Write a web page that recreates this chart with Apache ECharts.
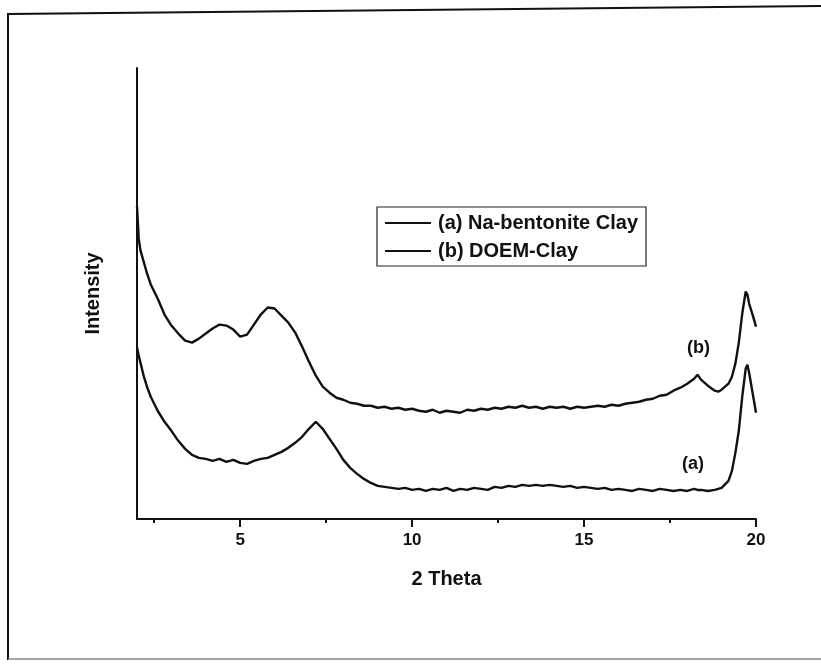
<!DOCTYPE html>
<html>
<head>
<meta charset="utf-8">
<script src="https://cdn.jsdelivr.net/npm/echarts@6/dist/echarts.min.js"></script>
<style>
html,body{margin:0;padding:0;background:#fff;}
#main{width:821px;height:664px;}
</style>
</head>
<body>
<div id="main"></div>
<script>
// 2 Theta positions
var theta = [2.0,2.05,2.1,2.2,2.3,2.4,2.6,2.8,3.0,3.2,3.4,3.6,3.8,4.0,4.2,4.4,4.6,4.8,5.0,5.2,5.4,5.6,5.8,6.0,6.2,6.4,6.6,6.8,7.0,7.2,7.4,7.6,7.8,8.0,8.2,8.4,8.6,8.8,9.0,9.2,9.4,9.6,9.8,
	10.0,10.2,10.4,10.6,10.8,11.0,11.2,11.4,11.6,11.8,12.0,12.2,12.4,12.6,12.8,13.0,13.2,13.4,13.6,13.8,14.0,14.2,14.4,14.6,14.8,
	15.0,15.2,15.4,15.6,15.8,16.0,16.2,16.4,16.6,16.8,17.0,17.2,17.4,17.6,17.8,18.0,18.2,18.3,18.4,18.6,18.8,18.9,19.0,19.2,19.3,19.4,19.5,19.6,19.7,19.75,19.8,19.9,20.0];

// (a) Na-bentonite Clay
var clayA = [171,163,156,142,131,122,108,97,88,78,70,64,61,60,58,60,57,59,56,55,58,60,61,64,67,71,76,82,90,97,90,80,70,59,51,45,40,36,33,32,31,30,31,
	29,30,28,30,29,31,28,30,29,31,30,29,32,31,33,32,34,33,34,33,34,33,32,33,31,
	32,31,30,31,29,30,29,28,30,29,28,30,29,28,29,28,30,29,29,28,29,30,31,38,48,66,88,122,150,154,146,126,106];

// (b) DOEM-Clay
var clayB = [312,280,268,256,244,234,220,204,193,185,178,176,180,185,190,194,193,189,182,184,194,204,211,210,203,196,186,172,157,143,132,126,121,119,116,115,113,113,111,112,110,111,109,
	110,108,107,109,106,108,107,106,109,108,110,109,111,110,112,111,113,111,112,110,112,111,112,110,112,
	111,112,113,112,114,113,115,116,117,119,120,123,124,128,131,135,140,144,139,133,128,127,129,135,142,155,176,205,227,224,215,204,192];

var xTicks = [5,10,15,20];
var xMinor = [2.5,7.5,12.5,17.5];
var legends = ['(a) Na-bentonite Clay','(b) DOEM-Clay'];

function pairs(xs, ys) {
	var out = new Array();
	for (var k in ys) {
		out[k] = [xs[k], ys[k]];
	}
	return out;
}

var font = '"Liberation Sans", Arial, sans-serif';
var myChart = echarts.init(document.getElementById('main'));
var option = {
	backgroundColor: '#fff',
	animation: false,
	color: ['#111', '#111'],
	grid: { left: 137, right: 65, top: 68, bottom: 145 },
	legend: {
		data: legends,
		orient: 'vertical',
		left: 377, top: 207,
		padding: [6, 8, 5, 8],
		itemGap: 8,
		itemWidth: 46, itemHeight: 2,
		borderColor: '#222', borderWidth: 1.2, borderRadius: 0,
		icon: 'rect',
		textStyle: { fontFamily: font, fontWeight: 'bold', fontSize: 20, color: '#111', padding: [0, 0, 0, 2] }
	},
	xAxis: [{
		type: 'value',
		min: 2, max: 20,
		name: '2 Theta',
		nameLocation: 'middle',
		nameGap: 50,
		nameTextStyle: { fontFamily: font, fontWeight: 'bold', fontSize: 20, color: '#111' },
		axisLine: { lineStyle: { color: '#111', width: 2 } },
		axisTick: { show: true, inside: false, length: 8, customValues: xTicks, lineStyle: { color: '#111', width: 2 } },
		axisLabel: { customValues: xTicks, fontFamily: font, fontWeight: 'bold', fontSize: 17, color: '#111', margin: 13 },
		splitLine: { show: false }
	}, {
		type: 'value',
		min: 2, max: 20,
		position: 'bottom',
		axisLine: { show: false },
		axisTick: { show: true, length: 4, customValues: xMinor, lineStyle: { color: '#111', width: 2 } },
		axisLabel: { show: false },
		splitLine: { show: false }
	}],
	yAxis: {
		type: 'value',
		min: 0, max: 450,
		name: 'Intensity',
		nameLocation: 'middle',
		nameGap: 34,
		nameTextStyle: { fontFamily: font, fontWeight: 'bold', fontSize: 20, color: '#111' },
		axisLine: { show: true, lineStyle: { color: '#111', width: 2 } },
		axisTick: { show: false },
		axisLabel: { show: false },
		splitLine: { show: false }
	},
	graphic: [
		{ type: 'polyline', shape: { points: [[8, 660], [8, 14], [821, 6]] }, style: { stroke: '#111', lineWidth: 2, fill: null } },
		{ type: 'line', shape: { x1: 8, y1: 659, x2: 821, y2: 659 }, style: { stroke: '#888', lineWidth: 1.5 } },
		{ type: 'text', left: 687, top: 339, style: { text: '(b)', font: 'bold 18px "Liberation Sans", Arial, sans-serif', fill: '#111' } },
		{ type: 'text', left: 682, top: 455, style: { text: '(a)', font: 'bold 18px "Liberation Sans", Arial, sans-serif', fill: '#111' } }
	],
	series: [{
		name: legends[0],
		type: 'line',
		data: pairs(theta, clayA),
		showSymbol: false,
		lineStyle: { color: '#111', width: 2.4 }
	}, {
		name: legends[1],
		type: 'line',
		data: pairs(theta, clayB),
		showSymbol: false,
		lineStyle: { color: '#111', width: 2.4 }
	}]
};
myChart.setOption(option);
</script>
</body>
</html>
